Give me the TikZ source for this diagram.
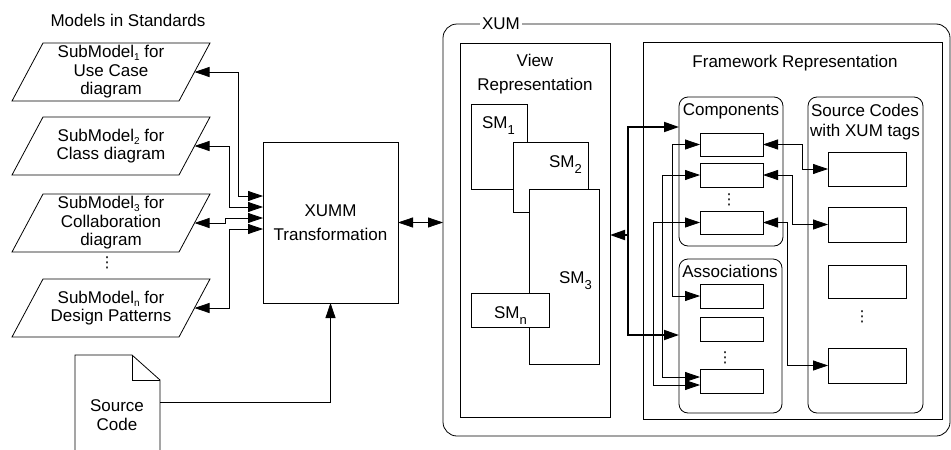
\documentclass[tikz,border=0pt]{standalone}
\usepackage{fontspec}
\setmainfont{Liberation Sans}
\newfontfamily\symfont{DejaVu Sans}
\usetikzlibrary{arrows.meta,calc}
% lowered indices used in the labels
\newcommand\lowidx[1]{\raisebox{-3pt}{\fontsize{10}{10}\selectfont #1}}
\newcommand\smidx[1]{\raisebox{-6pt}{\fontsize{13}{13}\selectfont #1}}
% vertical ellipsis
\newcommand\vdotz{{\symfont\fontsize{15}{15}\selectfont ⋮}}
\begin{document}
\begin{tikzpicture}[x=1pt,y=-1pt,line width=0.8pt,
  >={Triangle[length=15pt,width=10pt]},
  every node/.style={font=\fontsize{17}{19}\selectfont,inner sep=0pt,outer sep=0pt},
  rect/.style n args={2}{draw,fill=white,minimum width=#1pt,minimum height=#2pt,anchor=north west},
  grp/.style n args={2}{rect={#1}{#2},rounded corners=9pt},
  plate/.style n args={2}{minimum width=#1pt,minimum height=#2pt,align=center,font=\fontsize{17}{18.5}\selectfont},
  thk/.style={line width=1.8pt}
]
\useasboundingbox (0,0) rectangle (951,450);

% ---------- models in standards ----------
\node (title) at (128,20) {Models in Standards};
\node[plate={167}{58}] (p1) at (111,72) {SubModel\lowidx{1} for\\Use Case\\diagram};
\node[plate={167}{58}] (p2) at (111,146) {SubModel\lowidx{2} for\\Class diagram};
\node[plate={167}{58}] (p3) at (111,223) {SubModel\lowidx{3} for\\Collaboration\\diagram};
\node[plate={167}{58}] (pn) at (111,308) {SubModel\lowidx{n} for\\Design Patterns};
\node (pdots) at (107,263) {\vdotz};
\foreach \n in {p1,p2,p3,pn}
  \draw ($(\n.north west)+(15.5,0)$) -- ($(\n.north east)+(15.5,0)$)
     -- ($(\n.south east)+(-15.5,0)$) -- ($(\n.south west)+(-15.5,0)$) -- cycle;

% ---------- source code document ----------
\node[minimum width=85pt,minimum height=95pt] (src) at (117.5,402.5) {};
\draw (src.south west) -- (src.north west) -- ($(src.north east)+(-28,0)$)
   -- ($(src.north east)+(0,25)$) -- (src.south east);
\draw ($(src.north east)+(-28,0)$) -- ++(0,25) -- ++(28,0);
\node[align=center] (srclbl) at (117,415) {Source\\Code};

% ---------- transformation ----------
\node[rect={135}{161},align=center,font=\fontsize{17}{24.5}\selectfont] (xumm) at (263,142) {XUMM\\Transformation};

% ---------- XUM container ----------
\node[rect={507}{412},rounded corners=14pt] (xum) at (443,24) {};
\node[fill=white,inner xsep=2pt,inner ysep=1pt] (xumlbl) at (501,24) {XUM};

% view representation
\node[rect={150}{374}] (view) at (460,43) {};
\node[align=center,font=\fontsize{17}{24}\selectfont] (viewlbl) at (535,74) {View\\Representation};
\node[rect={56}{85}] (sm1) at (471,104) {};
\node[rect={75}{70}] (sm2) at (513,142) {};
\node[rect={70}{175}] (sm3) at (529,189) {};
\node[rect={78}{34}] (smn) at (471,293) {};
\node[anchor=base west] (sm1lbl) at (482,128) {SM\smidx{1}};
\node[anchor=base west] (sm2lbl) at (549,167) {SM\smidx{2}};
\node[anchor=base west] (sm3lbl) at (559,283) {SM\smidx{3}};
\node[anchor=base west] (smnlbl) at (494,318) {SM\smidx{n}};

% framework representation
\node[rect={299}{377}] (fw) at (643,42) {};
\node[anchor=base] (fwlbl) at (795,67) {Framework Representation};
\node[grp={104}{149}] (comp) at (679,97) {};
\node[anchor=base] (complbl) at (731,115) {Components};
\node[grp={103}{154}] (assoc) at (679,259) {};
\node[anchor=base] (assoclbl) at (730,277) {Associations};
\node[grp={115}{316}] (srcs) at (808,97) {};
\node[align=center,font=\fontsize{17}{20.5}\selectfont] (srcslbl) at (865,122) {Source Codes\\with XUM tags};

\node[rect={63}{23}] (c1) at (700,133) {};
\node[rect={63}{24}] (c2) at (700,163) {};
\node[rect={63}{23}] (c3) at (700,211) {};
\node (cdots) at (729,200) {\vdotz};
\node[rect={63}{24}] (a1) at (700,284) {};
\node[rect={63}{24}] (a2) at (700,317) {};
\node[rect={63}{24}] (a3) at (700,369) {};
\node (adots) at (725,358) {\vdotz};
\node[rect={78}{34}] (s1) at (828,152) {};
\node[rect={78}{35}] (s2) at (828,207) {};
\node[rect={78}{33}] (s3) at (828,265) {};
\node[rect={78}{35}] (s4) at (828,348) {};
\node (sdots) at (862,317) {\vdotz};

% ---------- connectors ----------
\draw[<->] (p1.east) -| ($(xumm.west)+(-25,-26.5)$) -- ($(xumm.west)+(0,-26.5)$);
\draw[<->] (p2.east) -| ($(xumm.west)+(-34,-15.5)$) -- ($(xumm.west)+(0,-15.5)$);
\draw[<->] (p3.east) -| ($(xumm.west)+(-38,-4.5)$) -- ($(xumm.west)+(0,-4.5)$);
\draw[<->] (pn.east) -| ($(xumm.west)+(-34,6.5)$) -- ($(xumm.west)+(0,6.5)$);
\draw[->] (src.east) -| (xumm.south);
\draw[<->] (xumm.east) -- (xumm.east -| xum.west);

\coordinate (hub) at ($(view.east)+(18,5)$);
\draw[thk,->] (hub) -- (hub -| view.east);
\draw[thk,->] (hub) |- ($(comp.north west)+(0,30)$);
\draw[thk,->] (hub) |- ($(assoc.north west)+(0,76)$);

\draw[<->] (c1.west) -- ++(-28,0) |- (a1.west);
\draw[<->] (c2.west) -- ++(-38,0) |- ($(a3.west)+(0,-4)$);
\draw[<->] (c3.west) -- ++(-47,0) |- ($(a3.west)+(0,4)$);
\draw[<->] (c1.east) -- ++(39,0) |- (s1.west);
\draw[<->] (c2.east) -- ++(29,0) |- (s2.west);
\draw[<->] (c3.east) -- ++(24,0) |- (s4.west);
\end{tikzpicture}
\end{document}
